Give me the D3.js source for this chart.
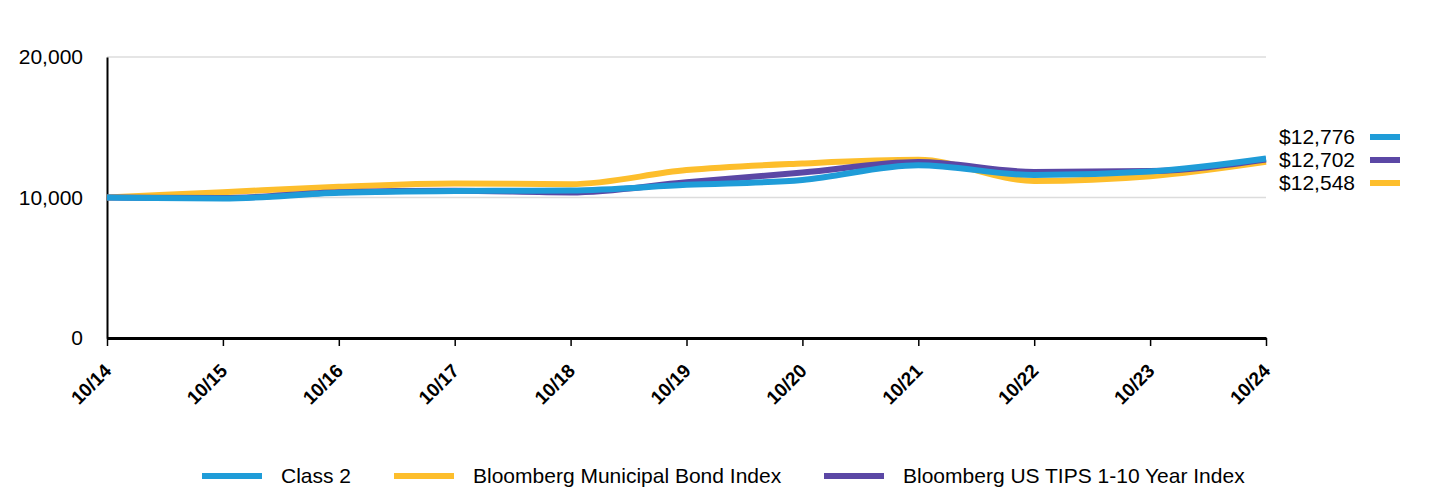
<!DOCTYPE html>
<html>
<head>
<meta charset="utf-8">
<script src="https://cdn.jsdelivr.net/npm/d3@7"></script>
<style>
  body { margin: 0; background: #fff; font-family: "Liberation Sans", Arial, sans-serif; }
  svg text { fill: #000; }
</style>
</head>
<body>
<div id="chart"></div>
<script>
// ---------------- DATA ----------------
const periods = ["10/14", "10/15", "10/16", "10/17", "10/18", "10/19", "10/20", "10/21", "10/22", "10/23", "10/24"];
const class2 = [10000, 9930, 10330, 10470, 10500, 10900, 11250, 12300, 11600, 11850, 12776];
const muniIndex = [10000, 10380, 10760, 11000, 10950, 11950, 12420, 12680, 11180, 11520, 12548];
const tipsIndex = [10000, 9960, 10380, 10480, 10360, 11080, 11780, 12520, 11820, 11880, 12702];
const yTicks = [0, 10000, 20000];

const series = [
  { name: "Bloomberg Municipal Bond Index", values: muniIndex, color: "#fdbe2c", end: "$12,548" },
  { name: "Bloomberg US TIPS 1-10 Year Index", values: tipsIndex, color: "#5b47a5", end: "$12,702" },
  { name: "Class 2", values: class2, color: "#1f9cd8", end: "$12,776" }
];
const legendOrder = [series[2], series[0], series[1]];
const endOrder = [series[2], series[1], series[0]];

// ---------------- SPACE SETUP ----------------
const W = 1440, H = 492;
const margin = { top: 57, right: 174, bottom: 154, left: 107 };
const width = W - margin.left - margin.right;
const height = H - margin.top - margin.bottom;
const font = "Liberation Sans, Arial, sans-serif";

const svg = d3.select("#chart").append("svg")
  .attr("width", W).attr("height", H);
const g = svg.append("g").attr("transform", `translate(${margin.left},${margin.top})`);

// ---------------- SCALES ----------------
const x = d3.scalePoint().domain(periods).range([0, width]);
const y = d3.scaleLinear().domain([0, 20000]).range([height, 0]);

// grid
g.selectAll("line.grid").data(yTicks.filter(d => d > 0)).enter().append("line")
  .attr("x1", 0).attr("x2", width)
  .attr("y1", d => y(d)).attr("y2", d => y(d))
  .attr("stroke", "#dcdcdc").attr("stroke-width", 1.5);

// y axis
const yAxis = g.append("g")
  .call(d3.axisLeft(y).tickValues(yTicks).tickSize(0).tickPadding(24).tickFormat(d3.format(",")));
yAxis.select(".domain").attr("stroke", "#000").attr("stroke-width", 2);
yAxis.selectAll("text").style("font-size", "21px").style("font-family", font);

// x axis
const xAxis = g.append("g")
  .attr("transform", `translate(0,${height})`)
  .call(d3.axisBottom(x).tickSize(8).tickSizeOuter(0));
xAxis.select(".domain").attr("stroke", "#000").attr("stroke-width", 3);
xAxis.selectAll(".tick line").attr("stroke", "#000").attr("stroke-width", 1.5);
xAxis.selectAll("text")
  .style("font-size", "19px").style("font-weight", "bold")
  .style("font-family", font)
  .attr("text-anchor", "end")
  .attr("dy", null).attr("y", 0)
  .attr("transform", "translate(5,34) rotate(-45)");

// ---------------- LINES ----------------
const line = d3.line()
  .x((d, i) => x(periods[i]))
  .y(d => y(d))
  .curve(d3.curveMonotoneX);

g.selectAll("path.series").data(series).enter().append("path")
  .attr("class", "series")
  .attr("d", d => line(d.values))
  .attr("fill", "none")
  .attr("stroke", d => d.color)
  .attr("stroke-width", 6)
  .attr("stroke-linejoin", "round");

// end labels
const endG = svg.append("g");
endOrder.forEach((s, i) => {
  const cy = 137 + i * 23;
  endG.append("text").attr("x", 1355).attr("y", cy).attr("dy", "0.35em")
    .attr("text-anchor", "end").style("font-size", "21px").text(s.end);
  endG.append("line").attr("x1", 1370).attr("x2", 1400).attr("y1", cy).attr("y2", cy)
    .attr("stroke", s.color).attr("stroke-width", 6);
});

// legend
const legendX = [202, 394, 824];
const lg = svg.append("g");
legendOrder.forEach((s, i) => {
  lg.append("line").attr("x1", legendX[i]).attr("x2", legendX[i] + 60)
    .attr("y1", 476).attr("y2", 476).attr("stroke", s.color).attr("stroke-width", 6);
  lg.append("text").attr("x", legendX[i] + 79).attr("y", 476).attr("dy", "0.35em")
    .style("font-size", "21px").text(s.name);
});
</script>
</body>
</html>
